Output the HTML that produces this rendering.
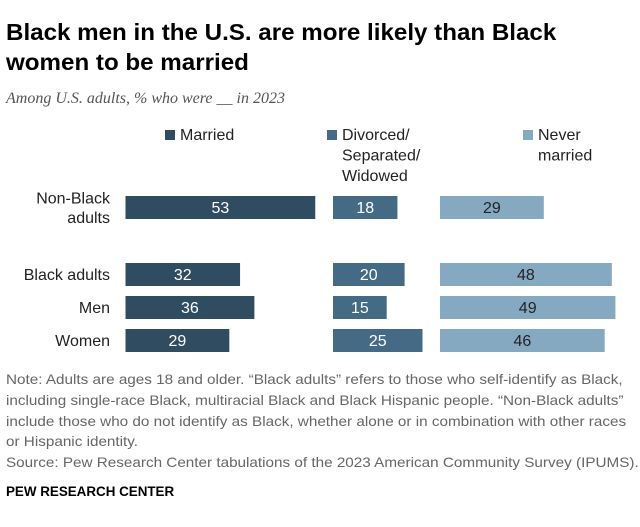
<!DOCTYPE html>
<html><head><meta charset="utf-8"><style>
body{margin:0;width:640px;height:527px;background:#fff;font-family:"Liberation Sans",sans-serif;color:#222;position:relative;overflow:hidden}
.t{position:absolute;left:6px;top:17px;font-size:23px;font-weight:bold;line-height:30px;color:#000;white-space:nowrap;transform:scaleX(1.05);transform-origin:0 0}
.sub{position:absolute;left:6px;top:90px;font-family:"Liberation Serif",serif;font-style:italic;font-size:16px;color:#555}
.note{position:absolute;left:6px;top:369px;font-size:14px;line-height:20.8px;color:#666;white-space:nowrap;transform:scaleX(1.09);transform-origin:0 0}
.logo{position:absolute;left:6px;top:484px;font-size:13.4px;font-weight:bold;color:#000}
</style></head><body>
<div class="t">Black men in the U.S. are more likely than Black<br>women to be married</div>
<div class="sub">Among U.S. adults, % who were __ in 2023</div>
<svg id="c" width="640" height="370" style="position:absolute;left:0;top:0"></svg>
<div class="note">Note: Adults are ages 18 and older. “Black adults” refers to those who self-identify as Black,<br>including single-race Black, multiracial Black and Black Hispanic people. “Non-Black adults”<br>include those who do not identify as Black, whether alone or in combination with other races<br>or Hispanic identity.<br>Source: Pew Research Center tabulations of the 2023 American Community Survey (IPUMS).</div>
<div class="logo">PEW RESEARCH CENTER</div>
<script>
const categories=["Non-Black adults","Black adults","Men","Women"];
const married=[53,32,36,29];
const divorced=[18,20,15,25];
const never=[29,48,49,46];
const seriesNames=["Married","Divorced/Separated/Widowed","Never married"];
const NS="http://www.w3.org/2000/svg";
const svg=document.getElementById('c');
const scale=3.58;
const colX=[125.5,333,440];
const colors=["#2f4c61","#456a85","#86a9c2"];
const txtColors=["#fff","#fff","#222"];
const rowTop=[196,263,296,329];
function x(col,v){return colX[col]+v*scale;}
function mk(tag,attrs){const e=document.createElementNS(NS,tag);for(const k in attrs)e.setAttribute(k,attrs[k]);svg.appendChild(e);return e;}
const series=[married,divorced,never];
const legX=[165,327,523];
const legLines=[["Married"],["Divorced/","Separated/","Widowed"],["Never","married"]];
legLines.forEach((ls,i)=>{
  const r=mk('rect',{x:legX[i],y:130,width:10,height:10,fill:colors[i]});
  
  
  ls.forEach((l,j)=>{const t=mk('text',{x:legX[i]+15,y:140+j*20.5,'font-size':16,fill:'#222'});t.textContent=l;
    
    });
});
const labLines=[["Non-Black","adults"],["Black adults"],["Men"],["Women"]];
labLines.forEach((ls,i)=>{
  const n=ls.length;
  ls.forEach((l,j)=>{
    const y=rowTop[i]+11.5+5.5+(j-(n-1)/2)*19.5;
    const t=mk('text',{x:110,y:y,'font-size':16,fill:'#222','text-anchor':'end'});t.textContent=l;
    
    
  });
});
series.forEach((s,c)=>{
  s.forEach((v,i)=>{
    const r=mk('rect',{x:colX[c],y:rowTop[i],width:x(c,v)-colX[c],height:23,fill:colors[c]});
    
    
    const t=mk('text',{x:(colX[c]+x(c,v))/2,y:rowTop[i]+17,'font-size':16,fill:txtColors[c],'text-anchor':'middle'});
    t.textContent=v;
    
    
  });
});
</script>
</body></html>
